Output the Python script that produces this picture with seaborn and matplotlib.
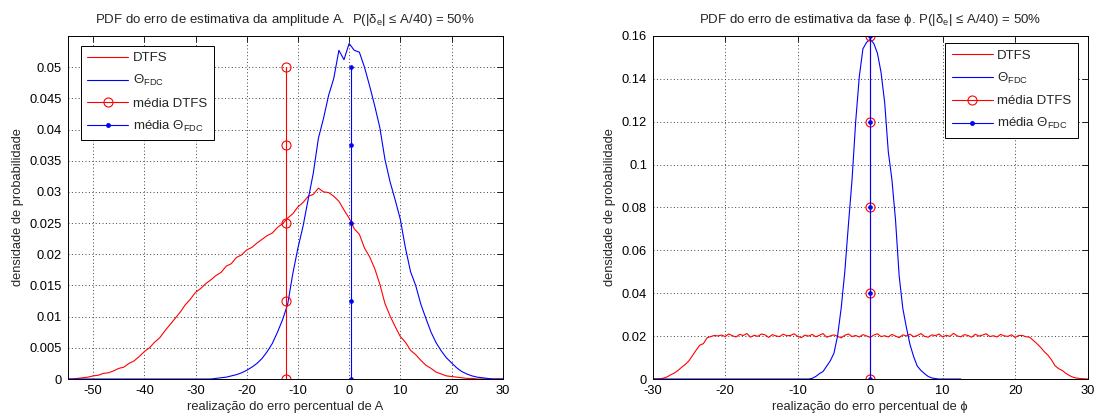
import numpy as np
import matplotlib
matplotlib.use('Agg')
import matplotlib.pyplot as plt
import seaborn as sns
from matplotlib.lines import Line2D
from matplotlib.ticker import FuncFormatter

# ---------------- data ----------------
# Left panel: amplitude error (%), histogram bins every 1 %
x_amp = np.arange(-55, 31, 1)
dtfs_amp = [0, 0, 0.0001, 0.0002, 0.0003, 0.0005, 0.0006, 0.0009, 0.0010, 0.0013,
            0.0017, 0.0019, 0.0025, 0.0029, 0.0036, 0.0044, 0.0050, 0.0059, 0.0066, 0.0077,
            0.0087, 0.0097, 0.0107, 0.0119, 0.0128, 0.0139, 0.0145, 0.0153, 0.0159, 0.0166,
            0.0171, 0.0181, 0.0185, 0.0195, 0.0199, 0.0207, 0.0211, 0.0218, 0.0224, 0.0230,
            0.0234, 0.0243, 0.0249, 0.0258, 0.0265, 0.0276, 0.0283, 0.0293, 0.0296, 0.0306,
            0.0300, 0.0299, 0.0293, 0.0285, 0.0271, 0.0258, 0.0241, 0.0232, 0.0210, 0.0196,
            0.0177, 0.0152, 0.0121, 0.0101, 0.0084, 0.0068, 0.0059, 0.0046, 0.0039, 0.0030,
            0.0022, 0.0017, 0.0011, 0.0008, 0.0005, 0.0004, 0.0003, 0.0002, 0.0001, 0.0001,
            0, 0, 0, 0, 0, 0]
fdc_amp = [0] * 20 + [0, 0, 0, 0, 0, 0, 0, 0, 0, 0.0001,
            0.0002, 0.0003, 0.0005, 0.0007, 0.0010, 0.0014, 0.0019, 0.0025, 0.0033, 0.0044,
            0.0057, 0.0075, 0.0095, 0.0120, 0.0169, 0.0210, 0.0245, 0.0288, 0.0330, 0.0386,
            0.0418, 0.0455, 0.0482, 0.0527, 0.0512, 0.0538, 0.0527, 0.0524, 0.0500, 0.0470,
            0.0438, 0.0403, 0.0352, 0.0316, 0.0287, 0.0256, 0.0210, 0.0172, 0.0150, 0.0120,
            0.0097, 0.0075, 0.0058, 0.0045, 0.0034, 0.0026, 0.0018, 0.0012, 0.0008, 0.0005,
            0.0003, 0.0002, 0.0001, 0, 0, 0]
mean_dtfs_amp = -12.4
mean_fdc_amp = 0.4
stem_amp = [0, 0.0125, 0.025, 0.0375, 0.05]

# Right panel: phase error (%), bins every 0.5 %
x_ph_dtfs = np.arange(-30, 30.01, 0.5)
dtfs_ph = ([0, 0, 0.0001, 0.0004, 0.0010, 0.0020, 0.0028, 0.0040, 0.0055, 0.0068,
            0.0085, 0.0110, 0.0135, 0.0158, 0.0165, 0.0192, 0.0198, 0.0203, 0.0201]
           + [0.0205, 0.0198, 0.0210, 0.0202, 0.0196, 0.0208, 0.0203, 0.0212, 0.0195, 0.0204,
              0.0199, 0.0210, 0.0206, 0.0194, 0.0207, 0.0201, 0.0198, 0.0209, 0.0202, 0.0203,
              0.0211, 0.0199, 0.0193, 0.0205, 0.0200, 0.0208, 0.0197, 0.0204, 0.0212, 0.0195,
              0.0201, 0.0206, 0.0199, 0.0192, 0.0204, 0.0210, 0.0198, 0.0203, 0.0196, 0.0207,
              0.0201, 0.0194, 0.0205, 0.0211, 0.0198, 0.0202, 0.0196, 0.0208, 0.0200, 0.0193,
              0.0206, 0.0201, 0.0209, 0.0197, 0.0203, 0.0212, 0.0199, 0.0195, 0.0206, 0.0202,
              0.0210, 0.0196, 0.0204, 0.0199, 0.0213, 0.0201, 0.0197, 0.0207, 0.0203, 0.0195,
              0.0209, 0.0200, 0.0205, 0.0211, 0.0198, 0.0202, 0.0196, 0.0208, 0.0201, 0.0199,
              0.0206, 0.0194, 0.0203]
           + [0.0203, 0.0197, 0.0195, 0.0180, 0.0165, 0.0148, 0.0128, 0.0112, 0.0090, 0.0062,
              0.0048, 0.0040, 0.0026, 0.0016, 0.0008, 0.0004, 0.0002, 0.0001, 0])
x_ph_fdc = np.arange(-30, 12.51, 0.5)
fdc_ph = ([0] * 44
          + [0.0003, 0.0012, 0.0025, 0.0035, 0.0060, 0.0085, 0.0120, 0.0200, 0.0330, 0.0500,
             0.0720, 0.0930, 0.1200, 0.1410, 0.1540, 0.1570, 0.1585, 0.1565, 0.1520, 0.1430,
             0.1290, 0.1060, 0.0930, 0.0740, 0.0480, 0.0330, 0.0240, 0.0160, 0.0104, 0.0060,
             0.0040, 0.0025, 0.0012, 0.0005, 0.0002]
          + [0] * 7)
mean_dtfs_ph = 0.0
mean_fdc_ph = 0.0
stem_ph = [0, 0.04, 0.08, 0.12, 0.16]

assert len(dtfs_amp) == len(x_amp) and len(fdc_amp) == len(x_amp)
assert len(dtfs_ph) == len(x_ph_dtfs) and len(fdc_ph) == len(x_ph_fdc)

# ---------------- style ----------------
sns.set_style('white')
plt.rcParams['font.family'] = ['Liberation Sans', 'DejaVu Sans']
plt.rcParams['mathtext.fontset'] = 'custom'
plt.rcParams['mathtext.rm'] = 'Liberation Sans'
plt.rcParams['mathtext.it'] = 'Liberation Sans:italic'
plt.rcParams['mathtext.bf'] = 'Liberation Sans:bold'

FS = 9.3
plt.rcParams['font.size'] = FS
fig = plt.figure(figsize=(10.96, 4.17), dpi=100)
ax1 = fig.add_axes([0.0616, 0.0911, 0.3971, 0.8226])
ax2 = fig.add_axes([0.5955, 0.0911, 0.3969, 0.8226])

LW = 0.8


def draw(ax, x_d, y_d, x_f, y_f, m_d, m_f, stem):
    sns.lineplot(x=x_d, y=y_d, ax=ax, color='red', lw=LW, estimator=None, sort=False, legend=False)
    sns.lineplot(x=x_f, y=y_f, ax=ax, color='blue', lw=LW, estimator=None, sort=False, legend=False)
    sns.lineplot(x=[m_d] * len(stem), y=stem, ax=ax, color='red', lw=LW, estimator=None,
                 sort=False, legend=False, marker='o', markersize=6.5,
                 markerfacecolor='none', markeredgecolor='red', markeredgewidth=0.8)
    sns.lineplot(x=[m_f] * len(stem), y=stem, ax=ax, color='blue', lw=LW, estimator=None,
                 sort=False, legend=False, marker='.', markersize=5,
                 markerfacecolor='blue', markeredgecolor='blue', markeredgewidth=0.8)


draw(ax1, x_amp, dtfs_amp, x_amp, fdc_amp, mean_dtfs_amp, mean_fdc_amp, stem_amp)
draw(ax2, x_ph_dtfs, dtfs_ph, x_ph_fdc, fdc_ph, mean_dtfs_ph, mean_fdc_ph, stem_ph)

fmt = FuncFormatter(lambda v, p: f'{v:g}')
for ax in (ax1, ax2):
    ax.grid(True, linestyle=(0, (1, 2.5)), color='0.25', linewidth=0.7)
    ax.tick_params(direction='in', top=True, right=True, length=4, width=0.6,
                   labelsize=FS, colors='black', pad=4)
    for s in ax.spines.values():
        s.set_color('black')
        s.set_linewidth(0.7)
    ax.yaxis.set_major_formatter(fmt)
    ax.xaxis.set_major_formatter(fmt)
    ax.set_ylabel('densidade de probabilidade', fontsize=FS, labelpad=4)

ax1.set_xlim(-55, 30)
ax1.set_ylim(0, 0.055)
ax1.set_xticks([-50, -40, -30, -20, -10, 0, 10, 20, 30])
ax1.set_yticks(np.arange(0, 0.0501, 0.005))
ax1.set_xlabel('realização do erro percentual de A', fontsize=FS, labelpad=3)
ax1.set_title('PDF do erro de estimativa da amplitude A.  P(|δ$_{\\mathrm{e}}$| ≤ A/40) = 50%',
              fontsize=9.5, pad=9)

ax2.set_xlim(-30, 30)
ax2.set_ylim(0, 0.16)
ax2.set_xticks([-30, -20, -10, 0, 10, 20, 30])
ax2.set_yticks(np.arange(0, 0.1601, 0.02))
ax2.set_xlabel('realização do erro percentual de ϕ', fontsize=FS, labelpad=3)
ax2.set_title('PDF do erro de estimativa da fase ϕ. P(|δ$_{\\mathrm{e}}$| ≤ A/40) = 50%',
              fontsize=9.5, pad=9)

handles = [Line2D([], [], color='red', lw=LW),
           Line2D([], [], color='blue', lw=LW),
           Line2D([], [], color='red', lw=LW, marker='o', ms=6.5, mfc='none', mec='red', mew=0.8),
           Line2D([], [], color='blue', lw=LW, marker='.', ms=5, mfc='blue', mec='blue')]
labels = ['DTFS', 'Θ$_{\\mathrm{FDC}}$', 'média DTFS', 'média Θ$_{\\mathrm{FDC}}$']

leg_kw = dict(frameon=True, fancybox=False, framealpha=1, edgecolor='black', fontsize=9.5,
              handlelength=3.1, handletextpad=0.35, labelspacing=0.68, borderpad=0.5,
              borderaxespad=0.0, numpoints=1)
l1 = ax1.legend(handles, labels, loc='upper left', bbox_to_anchor=(0.030, 0.972), **leg_kw)
l2 = ax2.legend(handles, labels, loc='upper right', bbox_to_anchor=(0.978, 0.979), **leg_kw)
for l in (l1, l2):
    l.get_frame().set_linewidth(0.7)

fig.savefig('out.png', dpi=100, facecolor='white')
